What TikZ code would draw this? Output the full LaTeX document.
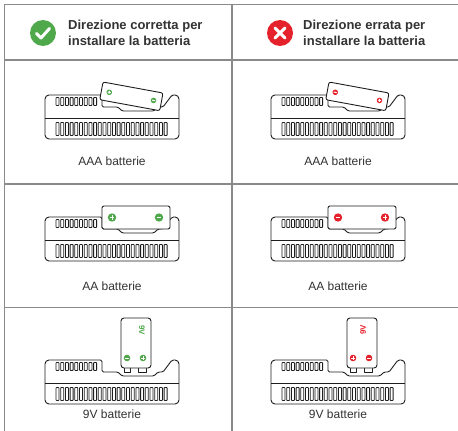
\documentclass[tikz,border=0pt]{standalone}
\usepackage{fontspec}
\setmainfont{Liberation Sans}
\definecolor{gridgrey}{HTML}{8A8A8A}
\definecolor{inkblack}{HTML}{1E1E1E}
\definecolor{textgrey}{HTML}{333333}
\definecolor{okgreen}{HTML}{4FA94B}
\definecolor{badred}{HTML}{E5222B}

% charger body drawn in local units: top-left of the body at (0,0), y down
\newcommand\chargerbody{%
  \draw[outline,fill=white] (57,0) [rounded corners=4pt] -- (0,0) -- (0,44) -- (134,44) -- (134,0)
    [rounded corners=1.5pt] -- (127,0) -- (118,12) -- (113,12) -- (109,16) -- (77,16) -- (73,12) -- (57,12) -- cycle;
  \draw[outline] (0,23) -- (134,23);
  \foreach \i in {0,...,8} \draw[slot] ({11+4.7*\i},2.5) rectangle ++(3,8);
  \foreach \i in {0,...,23} \draw[slot] ({11+4.7*\i},27.5) rectangle ++(3,13);
}
% terminal with a plus or minus sign: position, radius, colour
\newcommand\termplus[3]{%
  \fill[#3] (#1) circle[radius=#2];
  \draw[white,line width=1pt] (#1) ++(-0.55*#2,0) -- ++(1.1*#2,0) (#1) ++(0,-0.55*#2) -- ++(0,1.1*#2);}
\newcommand\termminus[3]{%
  \fill[#3] (#1) circle[radius=#2];
  \draw[white,line width=1pt] (#1) ++(-0.55*#2,0) -- ++(1.1*#2,0);}
% tilted AAA cell resting in the well
\newcommand\aaabattery[3]{%
  \begin{scope}[rotate around={-10.4:(58,-13)}]
    \draw[outline,fill=white,rounded corners=2pt] (58,-13) rectangle (119,5);
    #2{66,-4}{2.8}{#1}
    #3{111,-4}{2.8}{#1}
  \end{scope}}
% AA cell lying flat in the well
\newcommand\aabattery[3]{%
  \draw[outline,fill=white,rounded corners=2pt] (57,-11) rectangle (125,12);
  #2{67,0.5}{4.2}{#1}
  #3{114,0.5}{4.2}{#1}}
% 9V block standing in the well
\newcommand\ninevbattery[5]{%
  \draw[outline,line width=0.6pt,fill=white] (79,7) rectangle (85,12);
  \draw[outline,line width=0.6pt,fill=white] (93,7) rectangle (101,12);
  \draw[outline,fill=white,rounded corners=3pt] (76,-42) rectangle (106,8);
  #2{82,-2}{3.3}{#1}
  #3{98,-2}{3.3}{#1}
  \node[rotate=#5,inner sep=0,font=\fontsize{8}{8}\selectfont\bfseries,text=#1] at (#4,-30) {9V};}

\begin{document}
\begin{tikzpicture}[x=1pt,y=-1pt,
  grid/.style={draw=gridgrey,line width=1.4pt},
  outline/.style={draw=inkblack,line width=0.9pt,line join=round},
  slot/.style={draw=inkblack,line width=0.8pt,fill=white,rounded corners=0.6pt},
  caption/.style={font=\fontsize{12}{14}\selectfont,text=textgrey,inner sep=0,anchor=base},
  head/.style={font=\fontsize{13}{15}\selectfont\bfseries,text=textgrey,inner sep=0,anchor=base west},
]
\fill[white] (0,0) rectangle (458,431);
\useasboundingbox (0,0) rectangle (458,431);

% table rules
\draw[grid] (4.5,431) -- (4.5,4.5) -- (458,4.5);
\draw[grid] (4.5,60) -- (458,60);
\draw[grid] (232,4.5) -- (232,431);
\draw[grid] (4.5,184) -- (458,184);
\draw[grid] (4.5,307.5) -- (458,307.5);

% header: correct direction
\fill[okgreen] (43,33) circle[radius=13];
\draw[white,line width=3pt,line cap=round,line join=round] (36.5,33.5) -- (41,38) -- (49.5,28.5);
\node[head] (okA) at (68,29.5) {Direzione corretta per};
\node[head] (okB) at (68,45) {installare la batteria};

% header: wrong direction
\fill[badred] (280,33) circle[radius=13];
\draw[white,line width=3pt,line cap=round] (275,28) -- (285,38) (285,28) -- (275,38);
\node[head] (koA) at (303,29.5) {Direzione errata per};
\node[head] (koB) at (303,45) {installare la batteria};

% AAA row
\begin{scope}[shift={(45,95)}]
  \chargerbody
  \aaabattery{okgreen}{\termplus}{\termminus}
\end{scope}
\begin{scope}[shift={(271,95)}]
  \chargerbody
  \aaabattery{badred}{\termminus}{\termplus}
\end{scope}
\node[caption] (aaaL) at (112,165.5) {AAA batterie};
\node[caption] (aaaR) at (338,165.5) {AAA batterie};

% AA row
\begin{scope}[shift={(45,217)}]
  \chargerbody
  \aabattery{okgreen}{\termplus}{\termminus}
\end{scope}
\begin{scope}[shift={(271,217)}]
  \chargerbody
  \aabattery{badred}{\termminus}{\termplus}
\end{scope}
\node[caption] (aaL) at (112,290) {AA batterie};
\node[caption] (aaR) at (338,290) {AA batterie};

% 9V row
\begin{scope}[shift={(45,360)}]
  \chargerbody
  \ninevbattery{okgreen}{\termminus}{\termplus}{97}{-90}
\end{scope}
\begin{scope}[shift={(271,360)}]
  \chargerbody
  \ninevbattery{badred}{\termplus}{\termminus}{92}{90}
\end{scope}
\node[caption] (nvL) at (112,418) {9V batterie};
\node[caption] (nvR) at (338,418) {9V batterie};
\end{tikzpicture}
\end{document}
